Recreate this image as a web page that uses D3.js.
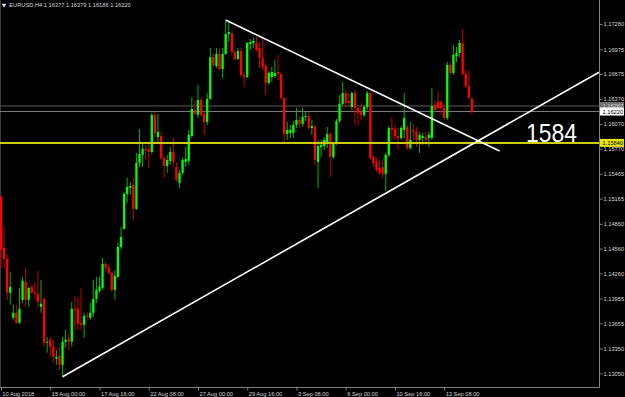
<!DOCTYPE html>
<html lang="en">
<head>
  <meta charset="UTF-8">
  <title>EURUSD,H4</title>
  <script src="https://cdn.jsdelivr.net/npm/d3@7"></script>
  <style>
    html, body {
      margin: 0;
      padding: 0;
      background: #000;
      overflow: hidden;
    }
    svg {
      display: block;
      font-family: "Liberation Sans", Arial, sans-serif;
    }
  </style>
</head>
<body>
  <svg id="chart" width="625" height="397"></svg>

  <script>
    // H4 bars, 10 Aug 2018 08:00 .. 14 Sep 2018 20:00  [open, high, low, close]
    const bars = [
      [1.15186,1.15211,1.14327,1.14545],[1.14569,1.14823,1.14327,1.14436],[1.14436,1.14485,1.13940,1.14025],
      [1.14025,1.14279,1.13880,1.14097],[1.13722,1.13880,1.13698,1.13783],[1.13783,1.13880,1.13650,1.13662],
      [1.13662,1.14085,1.13650,1.13831],[1.13940,1.14218,1.13904,1.14170],[1.14158,1.14327,1.13855,1.13940],
      [1.13940,1.14097,1.13855,1.14085],[1.14097,1.14122,1.14013,1.14025],[1.14025,1.14158,1.13940,1.14013],
      [1.14013,1.14291,1.13843,1.13916],[1.13855,1.14182,1.13783,1.13892],[1.13952,1.13964,1.13371,1.13420],
      [1.13420,1.13492,1.13299,1.13432],[1.13456,1.13492,1.13250,1.13371],[1.13371,1.13456,1.13178,1.13250],
      [1.13226,1.13335,1.13153,1.13250],[1.13262,1.13371,1.13093,1.13153],[1.13153,1.13492,1.13008,1.13432],
      [1.13432,1.13577,1.13359,1.13456],[1.13468,1.13541,1.13335,1.13432],[1.13432,1.13916,1.13371,1.13831],
      [1.13831,1.13976,1.13577,1.13819],[1.13831,1.13976,1.13577,1.13650],[1.13662,1.14085,1.13577,1.13638],
      [1.13638,1.13783,1.13480,1.13746],[1.13746,1.13795,1.13698,1.13734],[1.13722,1.13904,1.13698,1.13783],
      [1.13783,1.14182,1.13734,1.13952],[1.13952,1.14218,1.13904,1.14061],[1.14049,1.14218,1.14025,1.14097],
      [1.14085,1.14448,1.14061,1.14376],[1.14376,1.14400,1.14279,1.14327],[1.14327,1.14364,1.14243,1.14267],
      [1.14267,1.14279,1.14037,1.14061],[1.14061,1.14303,1.13940,1.14230],[1.14218,1.14630,1.14206,1.14581],
      [1.14581,1.14823,1.14545,1.14702],[1.14799,1.15247,1.14787,1.15223],[1.15223,1.15416,1.15114,1.15307],
      [1.15295,1.15368,1.15211,1.15319],[1.15332,1.15416,1.14908,1.15041],[1.15041,1.15719,1.15029,1.15598],
      [1.15598,1.16009,1.15549,1.15707],[1.15695,1.15840,1.15549,1.15767],[1.15767,1.15816,1.15634,1.15755],
      [1.15767,1.15840,1.15537,1.15731],[1.15731,1.16203,1.15707,1.16179],[1.16179,1.16215,1.15912,1.15961],
      [1.15912,1.16191,1.15840,1.15973],[1.15924,1.15973,1.15634,1.15658],[1.15658,1.15695,1.15416,1.15561],
      [1.15561,1.15695,1.15477,1.15634],[1.15622,1.15791,1.15574,1.15731],[1.15731,1.15900,1.15549,1.15610],
      [1.15549,1.15598,1.15368,1.15392],[1.15356,1.15513,1.15295,1.15477],[1.15477,1.15658,1.15453,1.15634],
      [1.15610,1.15791,1.15549,1.15646],[1.15622,1.15997,1.15574,1.15937],[1.15924,1.16396,1.15900,1.16251],
      [1.16239,1.16360,1.16179,1.16191],[1.16179,1.16542,1.16142,1.16360],[1.16360,1.16396,1.16166,1.16179],
      [1.16191,1.16239,1.15937,1.16094],[1.16094,1.16445,1.16058,1.16372],[1.16372,1.16989,1.16360,1.16880],
      [1.16880,1.16929,1.16759,1.16784],[1.16771,1.16989,1.16747,1.16917],[1.16917,1.16989,1.16723,1.16735],
      [1.16735,1.16989,1.16626,1.16917],[1.16917,1.17328,1.16905,1.17159],[1.17159,1.17316,1.17062,1.17183],
      [1.17171,1.17195,1.16905,1.16941],[1.16941,1.16965,1.16844,1.16856],[1.16856,1.16989,1.16844,1.16953],
      [1.16953,1.16989,1.16638,1.16663],[1.16663,1.16699,1.16517,1.16638],[1.16638,1.17062,1.16626,1.17050],
      [1.17038,1.17098,1.16965,1.17062],[1.17050,1.17122,1.16989,1.17074],[1.17050,1.17122,1.16941,1.16965],
      [1.16989,1.17062,1.16747,1.16868],[1.16868,1.17110,1.16723,1.16759],[1.16771,1.16808,1.16421,1.16566],
      [1.16566,1.16711,1.16542,1.16687],[1.16638,1.16759,1.16578,1.16699],[1.16650,1.16844,1.16626,1.16687],
      [1.16699,1.16905,1.16602,1.16675],[1.16675,1.16687,1.16360,1.16384],[1.16384,1.16396,1.15852,1.15949],
      [1.15949,1.16094,1.15876,1.15997],[1.15961,1.16058,1.15900,1.15997],[1.15961,1.16106,1.15900,1.16058],
      [1.16058,1.16263,1.16021,1.16118],[1.16118,1.16166,1.16021,1.16070],[1.16070,1.16263,1.16033,1.16154],
      [1.16154,1.16215,1.16106,1.16166],[1.16166,1.16215,1.15997,1.16021],[1.16021,1.16118,1.15937,1.16045],
      [1.16033,1.16058,1.15574,1.15634],[1.15610,1.15876,1.15295,1.15803],[1.15791,1.15876,1.15670,1.15816],
      [1.15803,1.15912,1.15755,1.15876],[1.15840,1.16033,1.15779,1.15949],[1.15949,1.15973,1.15428,1.15670],
      [1.15670,1.15852,1.15646,1.15840],[1.15840,1.16130,1.15816,1.16106],[1.16106,1.16421,1.16082,1.16312],
      [1.16312,1.16578,1.16287,1.16445],[1.16445,1.16481,1.16263,1.16324],[1.16348,1.16445,1.16275,1.16324],
      [1.16275,1.16457,1.16239,1.16445],[1.16445,1.16481,1.16058,1.16263],[1.16263,1.16275,1.16058,1.16203],
      [1.16215,1.16324,1.16118,1.16179],[1.16179,1.16300,1.16154,1.16275],[1.16275,1.16469,1.16239,1.16445],
      [1.16445,1.16457,1.15634,1.15658],[1.15670,1.15695,1.15549,1.15598],[1.15610,1.15658,1.15489,1.15513],
      [1.15537,1.15634,1.15453,1.15477],[1.15549,1.15634,1.15416,1.15465],[1.15465,1.15719,1.15259,1.15695],
      [1.15695,1.16045,1.15670,1.16021],[1.16021,1.16154,1.15876,1.15997],[1.16009,1.16058,1.15876,1.15924],
      [1.15924,1.16021,1.15755,1.15900],[1.15900,1.16045,1.15876,1.16021],[1.15997,1.16445,1.15900,1.16142],
      [1.16033,1.16058,1.15755,1.15779],[1.15779,1.16094,1.15755,1.15876],[1.15997,1.16070,1.15876,1.15973],
      [1.15973,1.16033,1.15791,1.15876],[1.15876,1.15973,1.15719,1.15937],[1.15900,1.15961,1.15816,1.15924],
      [1.15912,1.15973,1.15816,1.15876],[1.15900,1.15973,1.15791,1.15937],[1.15900,1.16505,1.15876,1.16287],
      [1.16300,1.16360,1.16215,1.16239],[1.16336,1.16457,1.16239,1.16263],[1.16336,1.16360,1.16179,1.16263],
      [1.16263,1.16312,1.16118,1.16142],[1.16142,1.16820,1.16118,1.16784],[1.16784,1.16820,1.16663,1.16687],
      [1.16687,1.17026,1.16663,1.16905],[1.16892,1.17001,1.16820,1.16929],[1.16929,1.17086,1.16880,1.17050],
      [1.17050,1.17219,1.16650,1.16675],[1.16675,1.16723,1.16505,1.16529],[1.16529,1.16723,1.16384,1.16384],
      [1.16377,1.16379,1.16186,1.16220]
    ];

    const priceTicks = [1.17280, 1.16975, 1.16675, 1.16370, 1.16070, 1.15770, 1.15465,
                        1.15165, 1.14860, 1.14560, 1.14260, 1.13955, 1.13655, 1.13350, 1.13050];

    const timeTickBars = [0, 16, 32, 48, 64, 80, 96, 112, 128, 144];
    const timeTickLabels = ["10 Aug 2018", "15 Aug 00:00", "17 Aug 16:00", "22 Aug 08:00", "27 Aug 00:00",
                            "29 Aug 16:00", "3 Sep 08:00", "6 Sep 00:00", "10 Sep 16:00", "13 Sep 08:00"];

    // drawn objects: trend lines as [bar, price] anchors
    const resistanceLine = [[73, 1.17328], [162, 1.15743]];
    const supportLine = [[20, 1.13008], [125, 1.15230]];   // ray to the right
    const levelYellow = 1.15840;
    const levelGray = 1.16287;
    const bidPrice = 1.16220;
    const symbolInfo = "EURUSD,H4  1.16377 1.16379 1.16186 1.16220";
    const note = { text: "1584", bar: 170.6, price: 1.15845 };

    const plotRight = 599;
    const plotBottom = 387;

    const svg = d3.select("#chart");

    const xScale = d3.scaleLinear()
                     .domain([0, 194.3])
                     .range([1, plotRight]);

    const yScale = d3.scaleLinear()
                     .domain([1.13050, 1.17280])
                     .range([373.3, 24]);

    const plot = svg.append("g");

    // left window edge
    plot.append("line")
        .attr("x1", 0.5).attr("x2", 0.5)
        .attr("y1", 0).attr("y2", plotBottom)
        .attr("stroke", "#3a3a3a")
        .attr("stroke-width", 1);

    // gray horizontal line and bid line
    plot.append("line")
        .attr("x1", 0).attr("x2", plotRight)
        .attr("y1", yScale(levelGray)).attr("y2", yScale(levelGray))
        .attr("stroke", "#5e5e5e")
        .attr("stroke-width", 1);

    plot.append("line")
        .attr("x1", 0).attr("x2", plotRight)
        .attr("y1", yScale(bidPrice)).attr("y2", yScale(bidPrice))
        .attr("stroke", "#7c7f86")
        .attr("stroke-width", 1);

    // wicks
    plot.selectAll("line.wick")
        .data(bars)
        .enter()
        .append("line")
        .attr("class", "wick")
        .attr("x1", (d, i) => xScale(i))
        .attr("x2", (d, i) => xScale(i))
        .attr("y1", d => yScale(d[1]))
        .attr("y2", d => yScale(d[2]))
        .attr("stroke", d => d[3] >= d[0] ? "#00b400" : "#c40000")
        .attr("stroke-width", 1);

    // bodies
    plot.selectAll("rect.body")
        .data(bars)
        .enter()
        .append("rect")
        .attr("class", "body")
        .attr("x", (d, i) => xScale(i) - 1.15)
        .attr("width", 2.3)
        .attr("y", d => yScale(Math.max(d[0], d[3])))
        .attr("height", d => Math.max(1, Math.abs(yScale(d[0]) - yScale(d[3]))))
        .attr("fill", d => d[3] >= d[0] ? "#00ff00" : "#ff0000");

    // yellow level
    plot.append("line")
        .attr("x1", 0).attr("x2", plotRight)
        .attr("y1", yScale(levelYellow)).attr("y2", yScale(levelYellow))
        .attr("stroke", "#cccc00")
        .attr("stroke-width", 2);

    // trend lines
    plot.append("line")
        .attr("x1", xScale(resistanceLine[0][0])).attr("y1", yScale(resistanceLine[0][1]))
        .attr("x2", xScale(resistanceLine[1][0])).attr("y2", yScale(resistanceLine[1][1]))
        .attr("stroke", "#ffffff")
        .attr("stroke-width", 1.6);

    const supSlope = (supportLine[1][1] - supportLine[0][1]) / (supportLine[1][0] - supportLine[0][0]);
    const supEndBar = xScale.invert(plotRight);
    plot.append("line")
        .attr("x1", xScale(supportLine[0][0])).attr("y1", yScale(supportLine[0][1]))
        .attr("x2", plotRight)
        .attr("y2", yScale(supportLine[0][1] + supSlope * (supEndBar - supportLine[0][0])))
        .attr("stroke", "#ffffff")
        .attr("stroke-width", 1.6);

    // text object
    plot.append("text")
        .attr("x", xScale(note.bar))
        .attr("y", yScale(note.price))
        .attr("fill", "#ffffff")
        .attr("font-size", "25px")
        .attr("textLength", 51)
        .attr("lengthAdjust", "spacingAndGlyphs")
        .text(note.text);

    // frame
    svg.append("line")
       .attr("x1", plotRight + 0.5).attr("x2", plotRight + 0.5)
       .attr("y1", 0).attr("y2", plotBottom + 0.5)
       .attr("stroke", "#808080");
    svg.append("line")
       .attr("x1", 0).attr("x2", plotRight + 0.5)
       .attr("y1", plotBottom + 0.5).attr("y2", plotBottom + 0.5)
       .attr("stroke", "#808080");

    // price axis
    const yAxis = d3.axisRight(yScale)
                    .tickValues(priceTicks)
                    .tickSize(3)
                    .tickPadding(1)
                    .tickFormat(d3.format(".5f"));

    const yAxisG = svg.append("g")
       .attr("transform", "translate(" + (plotRight + 0.5) + ",0)")
       .call(yAxis);
    yAxisG.select(".domain").remove();
    yAxisG.selectAll(".tick line").attr("stroke", "#808080");
    yAxisG.selectAll(".tick text")
          .attr("fill", "#d4d4d4")
          .attr("font-size", "5.7px")
          .attr("font-family", "Liberation Sans, Arial, sans-serif");

    // time axis
    const xAxis = d3.axisBottom(xScale)
                    .tickValues(timeTickBars)
                    .tickSize(3)
                    .tickFormat((d, i) => timeTickLabels[i]);

    const xAxisG = svg.append("g")
       .attr("transform", "translate(0," + (plotBottom + 0.5) + ")")
       .call(xAxis);
    xAxisG.select(".domain").remove();
    xAxisG.selectAll(".tick line").attr("stroke", "#808080");
    xAxisG.selectAll(".tick text")
          .attr("fill", "#d4d4d4")
          .attr("font-size", "5.7px")
          .attr("font-family", "Liberation Sans, Arial, sans-serif")
          .attr("text-anchor", "start")
          .attr("x", (d, i) => i === 0 ? 0.8 : 1)
          .attr("y", 3)
          .attr("dy", "0.9em");

    // price labels of the horizontal lines
    const tagData = [
      { price: levelGray, bg: "#707070", fg: "#d0d0d0" },
      { price: bidPrice, bg: "#ffffff", fg: "#000000" },
      { price: levelYellow, bg: "#e6e600", fg: "#000000" }
    ];
    const tags = svg.selectAll("g.tag")
       .data(tagData)
       .enter()
       .append("g")
       .attr("class", "tag")
       .attr("transform", d => "translate(" + (plotRight + 1) + "," + yScale(d.price) + ")");
    tags.append("rect")
        .attr("x", 0).attr("y", -4)
        .attr("width", 24).attr("height", 8)
        .attr("fill", d => d.bg);
    tags.append("text")
        .attr("x", 2.5).attr("y", 2)
        .attr("font-size", "5.7px")
        .attr("fill", d => d.fg)
        .text(d => d3.format(".5f")(d.price));

    // header
    svg.append("path")
       .attr("d", d3.symbol(d3.symbolTriangle, 9)())
       .attr("transform", "translate(4,5) rotate(180)")
       .attr("fill", "#e0e0e0");
    svg.append("text")
       .attr("x", 9.3)
       .attr("y", 7.4)
       .attr("fill", "#d4d4d4")
       .attr("font-size", "5.7px")
       .text(symbolInfo);
  </script>
</body>
</html>
